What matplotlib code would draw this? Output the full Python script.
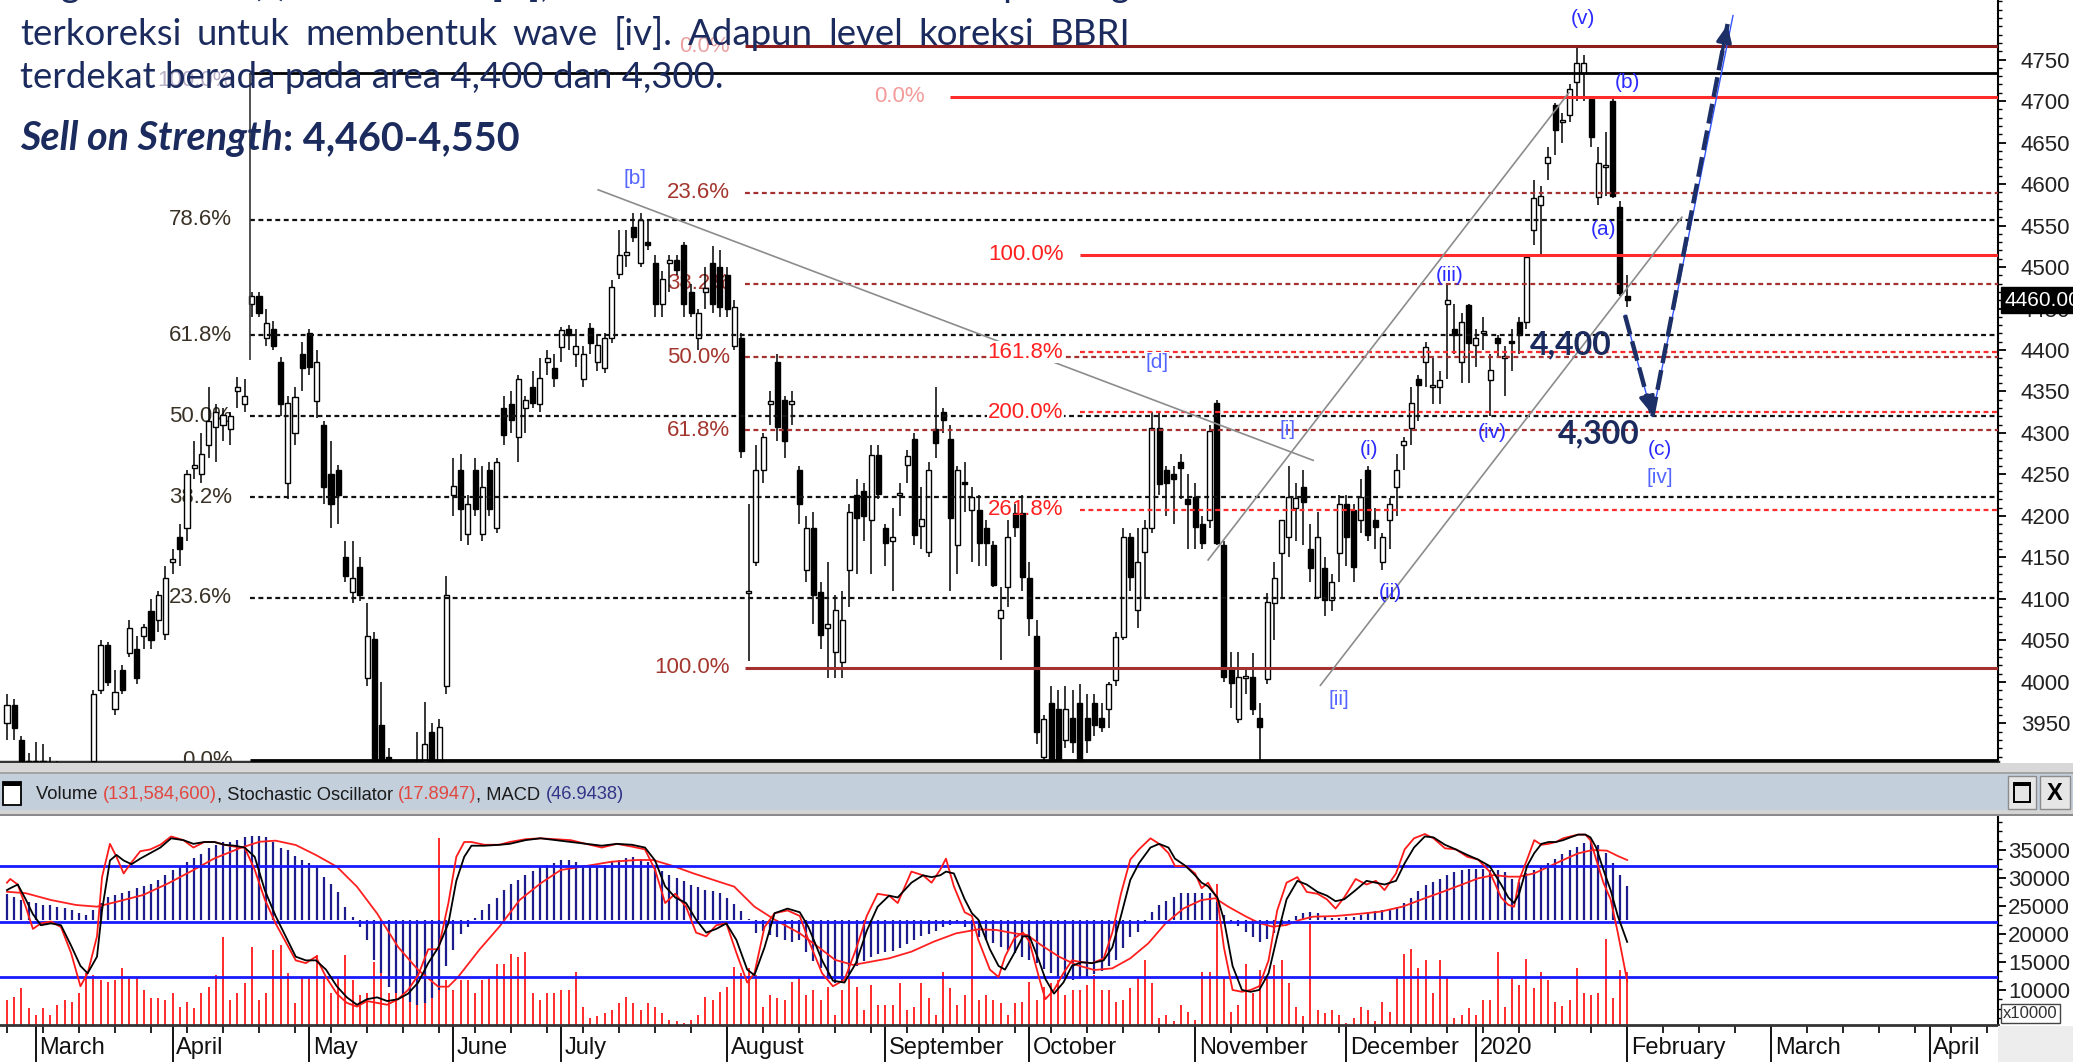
import numpy as np
import matplotlib
matplotlib.use("Agg")
import matplotlib.pyplot as plt
from matplotlib.patches import Rectangle
from matplotlib.transforms import IdentityTransform
from matplotlib.ticker import FixedLocator, MultipleLocator

# ---------------------------------------------------------------------------
# data  (BBRI daily, late Feb 2019 - end Jan 2020)
# ---------------------------------------------------------------------------
opens = [3950, 3972, 3930, 3905, 3900, 3905, 3900, 3900, 3900, 3890,
         3880, 3885, 3905, 3990, 4045, 3968, 4015, 4035, 4040, 4055,
         4085, 4075, 4058, 4145, 4175, 4185, 4258, 4250, 4285, 4307,
         4310, 4305, 4350, 4335, 4455, 4465, 4415, 4425, 4385, 4240,
         4300, 4395, 4420, 4338, 4310, 4250, 4255, 4150, 4108, 4138,
         4005, 4052, 3948, 3910, 3880, 3850, 3860, 3890, 3895, 3940,
         3905, 3995, 4225, 4256, 4178, 4255, 4178, 4255, 4186, 4330,
         4335, 4295, 4330, 4356, 4335, 4385, 4378, 4404, 4425, 4395,
         4365, 4426, 4386, 4378, 4414, 4492, 4515, 4548, 4505, 4530,
         4505, 4455, 4505, 4508, 4527, 4470, 4414, 4470, 4505, 4500,
         4490, 4405, 4415, 4107, 4145, 4255, 4335, 4386, 4340, 4335,
         4255, 4135, 4185, 4108, 4065, 4036, 4024, 4135, 4225, 4230,
         4195, 4273, 4185, 4170, 4225, 4262, 4293, 4188, 4157, 4305,
         4325, 4293, 4165, 4240, 4207, 4207, 4185, 4165, 4077, 4115,
         4204, 4204, 4125, 4055, 3910, 3975, 3967, 3930, 3957, 3975,
         3957, 3975, 3957, 3967, 4002, 4054, 4175, 4087, 4157, 4185,
         4306, 4255, 4250, 4265, 4220, 4223, 4190, 4195, 4336, 4165,
         4017, 3955, 4005, 4006, 3957, 4004, 4095, 4155, 4175, 4210,
         4235, 4160, 4103, 4137, 4099, 4155, 4215, 4207, 4195, 4255,
         4195, 4145, 4195, 4235, 4285, 4306, 4365, 4386, 4355, 4356,
         4455, 4425, 4386, 4454, 4406, 4420, 4364, 4414, 4390, 4410,
         4434, 4434, 4545, 4575, 4625, 4695, 4675, 4683, 4723, 4734,
         4703, 4584, 4620, 4700, 4572, 4465]
highs = [3985, 3980, 3935, 3915, 3928, 3925, 3910, 3905, 3903, 3900,
         3895, 3900, 3990, 4050, 4048, 4015, 4020, 4075, 4055, 4070,
         4100, 4110, 4140, 4160, 4190, 4255, 4290, 4300, 4355, 4335,
         4330, 4325, 4368, 4365, 4470, 4470, 4450, 4435, 4392, 4345,
         4355, 4410, 4425, 4400, 4315, 4290, 4262, 4170, 4170, 4150,
         4095, 4060, 4000, 3920, 3890, 3870, 3880, 3940, 3976, 3950,
         3955, 4128, 4270, 4275, 4225, 4270, 4260, 4265, 4270, 4345,
         4350, 4370, 4345, 4375, 4390, 4400, 4395, 4428, 4430, 4425,
         4405, 4432, 4418, 4420, 4484, 4545, 4545, 4565, 4565, 4555,
         4515, 4495, 4515, 4515, 4530, 4480, 4450, 4500, 4525, 4520,
         4500, 4460, 4420, 4215, 4285, 4300, 4350, 4395, 4345, 4350,
         4260, 4200, 4205, 4120, 4145, 4105, 4110, 4215, 4245, 4240,
         4285, 4285, 4190, 4210, 4240, 4280, 4300, 4235, 4265, 4355,
         4330, 4310, 4260, 4265, 4235, 4225, 4195, 4170, 4115, 4195,
         4215, 4225, 4145, 4075, 3960, 3995, 3990, 3995, 3990, 3998,
         3985, 3985, 3975, 4000, 4060, 4185, 4180, 4185, 4195, 4325,
         4325, 4260, 4260, 4275, 4250, 4240, 4200, 4310, 4340, 4170,
         4036, 4036, 4015, 4035, 3975, 4107, 4145, 4195, 4260, 4240,
         4255, 4190, 4205, 4150, 4130, 4225, 4225, 4215, 4245, 4260,
         4210, 4180, 4222, 4275, 4295, 4355, 4370, 4410, 4390, 4375,
         4480, 4455, 4445, 4455, 4425, 4440, 4395, 4418, 4405, 4425,
         4440, 4515, 4605, 4598, 4645, 4697, 4685, 4720, 4766, 4755,
         4705, 4645, 4663, 4702, 4580, 4490]
lows = [3930, 3930, 3880, 3870, 3880, 3885, 3870, 3880, 3870, 3860,
        3860, 3870, 3900, 3985, 3995, 3960, 3985, 4030, 3998, 4040,
        4040, 4060, 4050, 4130, 4140, 4170, 4245, 4240, 4270, 4265,
        4290, 4285, 4330, 4325, 4440, 4440, 4405, 4400, 4320, 4220,
        4285, 4350, 4370, 4318, 4215, 4185, 4190, 4120, 4095, 4098,
        3995, 3900, 3880, 3870, 3840, 3820, 3830, 3870, 3880, 3895,
        3895, 3985, 4200, 4170, 4165, 4200, 4170, 4200, 4180, 4285,
        4300, 4265, 4300, 4330, 4325, 4370, 4355, 4385, 4400, 4380,
        4355, 4395, 4375, 4372, 4408, 4485, 4500, 4530, 4500, 4520,
        4440, 4440, 4470, 4490, 4440, 4440, 4400, 4450, 4445, 4440,
        4440, 4400, 4270, 4025, 4140, 4240, 4310, 4290, 4270, 4310,
        4190, 4120, 4070, 4040, 4005, 4005, 4005, 4090, 4130, 4170,
        4130, 4220, 4140, 4110, 4200, 4240, 4165, 4160, 4150, 4270,
        4300, 4110, 4130, 4205, 4145, 4140, 4140, 4115, 4027, 4090,
        4175, 4110, 4055, 3925, 3890, 3890, 3890, 3920, 3915, 3880,
        3915, 3935, 3940, 3945, 3995, 4050, 4110, 4065, 4100, 4180,
        4225, 4200, 4190, 4220, 4160, 4160, 4160, 4185, 4165, 4000,
        3969, 3950, 3985, 3960, 3904, 3998, 4050, 4100, 4150, 4170,
        4165, 4120, 4100, 4080, 4085, 4120, 4140, 4120, 4180, 4170,
        4160, 4135, 4160, 4200, 4255, 4285, 4315, 4355, 4335, 4335,
        4365, 4395, 4360, 4360, 4380, 4400, 4320, 4390, 4345, 4375,
        4395, 4425, 4526, 4515, 4605, 4635, 4650, 4675, 4700, 4700,
        4645, 4575, 4585, 4583, 4465, 4452]
closes = [3972, 3945, 3900, 3895, 3905, 3900, 3895, 3890, 3885, 3880,
          3885, 3895, 3985, 4045, 4000, 3988, 3990, 4065, 4005, 4066,
          4050, 4105, 4125, 4148, 4160, 4250, 4262, 4275, 4315, 4325,
          4322, 4320, 4355, 4345, 4465, 4445, 4432, 4405, 4335, 4336,
          4343, 4378, 4380, 4385, 4235, 4215, 4225, 4128, 4125, 4105,
          4055, 3905, 3900, 3880, 3850, 3860, 3845, 3900, 3925, 3905,
          3946, 4105, 4236, 4208, 4215, 4208, 4235, 4208, 4265, 4297,
          4316, 4365, 4340, 4336, 4366, 4390, 4366, 4424, 4418, 4405,
          4395, 4408, 4406, 4414, 4476, 4514, 4518, 4536, 4557, 4527,
          4456, 4485, 4508, 4496, 4456, 4445, 4444, 4475, 4456, 4452,
          4450, 4452, 4278, 4110, 4255, 4295, 4338, 4307, 4290, 4338,
          4215, 4185, 4105, 4057, 4070, 4087, 4075, 4205, 4197, 4200,
          4273, 4227, 4168, 4175, 4228, 4272, 4177, 4196, 4255, 4288,
          4316, 4197, 4255, 4238, 4223, 4167, 4167, 4117, 4087, 4175,
          4187, 4127, 4077, 3940, 3955, 3905, 3900, 3967, 3928, 3900,
          3930, 3948, 3946, 3997, 4054, 4175, 4127, 4145, 4185, 4306,
          4238, 4240, 4245, 4258, 4215, 4187, 4167, 4303, 4167, 4006,
          3999, 4006, 4007, 3967, 3946, 4096, 4125, 4195, 4223, 4222,
          4217, 4137, 4175, 4099, 4120, 4215, 4175, 4139, 4223, 4177,
          4187, 4175, 4215, 4255, 4290, 4336, 4358, 4404, 4357, 4364,
          4460, 4418, 4434, 4408, 4414, 4422, 4376, 4408, 4392, 4408,
          4418, 4512, 4583, 4585, 4632, 4665, 4677, 4715, 4746, 4746,
          4657, 4625, 4622, 4585, 4469, 4460]

# volume in units of 10,000 shares
volume = [8228, 8819, 10296, 6750, 5569, 6750, 5569, 7342, 8228, 7932,
          9410, 12956, 12660, 11774, 11478, 11774, 13843, 12365, 12070, 10001,
          8524, 8524, 8228, 9410, 7046, 7932, 6750, 9410, 10592, 12660,
          19457, 8228, 9410, 11183, 17684, 8228, 9410, 17093, 17980, 12956,
          7637, 12365, 12365, 16207, 12365, 9410, 12070, 16207, 11774, 9115,
          9410, 15025, 14138, 9410, 11774, 9410, 11478, 11774, 9705, 13252,
          37187, 11774, 10001, 11774, 11774, 9410, 11774, 12070, 14729, 14729,
          16502, 15911, 16797, 9410, 8228, 9410, 9410, 10001, 10001, 13252,
          7046, 4978, 5273, 5864, 6455, 7637, 8819, 7637, 6455, 7637,
          7046, 5864, 4682, 4387, 4091, 4682, 5569, 8819, 8228, 9705,
          10592, 14138, 12956, 13843, 12660, 7046, 9115, 8524, 8228, 11478,
          12365,
          9115, 10001, 8228, 10592, 5569, 10001, 12070, 10592, 6455,
          10888, 7342, 7342, 7342, 11183, 6455, 7046, 11183, 8524,
          5569, 13252, 10296, 7342, 9115, 22412, 8228, 9115, 8228, 7637,
          5569, 7637, 7932, 11478, 8228, 10592, 11183, 11774, 9115, 10001,
          10001, 10888, 12660, 10001, 10001, 7932, 8228, 10296, 12365, 15320,
          11183, 4978, 5569, 4387, 7342, 6160, 4682, 13252, 13252, 28913,
          12070, 6160, 7342, 14729, 9410, 13547, 12070, 14434, 15320, 11183,
          7046, 5273, 21821, 6455, 5864, 6455, 5569, 4091, 4978, 7046,
          6455, 4387, 7932, 6160, 12365, 16502, 17389, 13843, 15320, 9410,
          15320, 12365, 4978, 5569, 6750, 5569, 8228, 8228,
          16797, 7046, 12365, 10888, 15616, 10296, 13252, 11774, 7932, 7164,
          8228, 13843, 9410, 9115, 9410, 19161, 8524, 13547, 13158]

macd_hist = [36, 32, 27.6, 25, 23, 21, 21, 18, 16, 14,
             10, 6.4, 14, 24, 32, 34, 37, 40.5, 44, 47,
             50, 55, 62, 69, 74, 80, 85, 91, 99, 103,
             108, 108, 110, 114, 116, 116, 114, 107, 99, 97,
             88, 83, 78, 74, 60, 50, 38, 18, 4.6, -9,
             -28, -55, -73, -92, -101, -106, -113, -117, -115, -107,
             -97, -64, -41, -20, -9, 2.3, 14, 22, 30, 41,
             50, 55, 62, 68, 73, 76, 79, 83, 83, 80,
             76, 75, 74, 76, 80, 83, 85, 87, 84, 80,
             74, 68, 62, 58, 54, 48, 45, 42, 40, 37,
             31, 22, 13, 2, -18, -15, -21, -24, -28, -30, -28,
             -43.7, -57, -66.7, -78, -86.5, -85, -74.5, -64, -56, -51.5,
             -47, -44.6, -42.3, -39, -33, -27.6, -22, -19.3, -14.7, -9.2,
             -7.4, -4.6, -9.2, -13.8, -23, -27.6, -32, -36.8, -41.4, -46,
             -50.6, -55, -59.8, -68, -73.6, -78, -80.5, -82.8, -81, -78,
             -74.5, -70, -63, -55, -39, -23, -16, -4.6, 11.5, 20.7,
             26.7, 32, 36.8, 36.8, 36.8, 36.8, 37.7, 25.3, 6.9, -3.7,
             -8.3, -16, -23, -31, -26.7, -17.5, -8.3, -3.7, 5.5, 10,
             11.5, 10, 5.5, 2.8, 2.8, 4.6, 4.6, 6.9, 11.5, 12.9,
             13.8, 14.7, 18.4, 23.9, 30, 40.5, 48.3, 52.9, 56.6, 61.6,
             65.8, 69, 70, 70, 70, 69, 69,
             66.7, 56, 53, 64.4, 69, 73.6, 78, 83.7, 90.6, 96.6,
             101, 106, 109, 104, 92, 78, 62, 47]

# MACD signal line, read at these bar positions
sig_x = [0, 2.6, 6.1, 9.6, 12.5, 15.3, 18.9, 22.4, 25.9, 28.8,
         32.3, 35.1, 37.3, 40.1, 42.9, 45.8, 48.6, 51.4, 54.3, 57.1,
         59.9, 61.3, 62.7, 65.6, 68.4, 71.2, 74.1, 76.9, 80.4, 84,
         87.5, 89.7, 92.5, 95.3, 98.2, 101, 103.8, 106.7, 110.1, 112.6,
         115, 117.5, 120, 122.5, 125.6, 128.7, 131.8, 134.9, 137.4, 139.9,
         141.7, 143.6, 146.1, 148.5, 151, 153.5, 156, 158.5, 160.9, 163.4,
         165.9, 167.8, 169.6, 172.1, 174, 175.8, 177.7, 179.5, 181.4, 184.5,
         187.6, 190.7, 193.8, 196.9, 199.4, 201.9, 204.3, 206.5, 208.5, 210,
         212.1, 214.1, 216.1, 218.2, 220.2, 222.2, 223.7, 225]
sig_v = [39, 37, 27.6, 20.7, 18.4, 25.3, 34.5, 50.6, 69, 85,
         99, 108, 109.5, 103.5, 89.7, 73.6, 46, 9, -37, -69,
         -92, -92, -78, -41, -9, 27.6, 50.6, 69, 74.5, 80.5,
         82.8, 82.8, 74.5, 64.4, 55, 46, 18.4, 0, -18.4, -36.8,
         -55, -62, -57.5, -52.9, -43.7, -29.9, -18.4, -12.9, -13.8, -18.4,
         -20.7, -34.5, -50.6, -62, -69, -66.7, -52.9, -32.2, -4.6, 16,
         27.6, 30, 18.4, 4.6, -4.6, -9.2, -6.9, 0, 4.6, 5.5,
         8.3, 11.5, 18.4, 30, 39, 48.3, 57.5, 62, 59.8, 59.8,
         64.4, 73.6, 82.8, 92, 96.6, 95.7, 88.3, 82.8]

# stochastic (%K red, %D black), read at these bar positions
sto_x = [0, 0.45, 1.5, 2.6, 3.6, 4.7, 6.1, 7.5, 8.9, 10.2,
         11.2, 12.5, 13.2, 14.3, 15.2, 16.2, 17.3, 18.5, 19.9, 21.3,
         22.8, 24.5, 25.9, 27.4, 28.8, 30.2, 31.6, 33, 34.4, 35.8,
         37.3, 38.7, 40.1, 41.5, 42.9, 44.3, 45.8, 47.2, 48.6, 50,
         51.4, 52.8, 54.3, 55.7, 57.1, 58.5, 59.9, 61.3, 62.4, 63.5,
         64.5, 66.3, 68.4, 69.8, 72, 74.1, 76.2, 78.3, 80.4, 82.6,
         84.7, 86.8, 88.6, 90, 91.4, 92.8, 94.3, 95.7, 97.1, 98.5,
         99.9, 101.3, 102.8, 103.8, 105.2, 106.6, 108.4, 110.1, 111.3, 113.2,
         114.7, 116.3, 117.9, 119.4, 120.9, 122.5, 123.7, 125.6, 127.2, 128.4,
         129.6, 130.4, 131.5, 133, 134, 134.9, 136.5, 137.7, 138.6, 139.9,
         141.1, 142, 143.3, 144.2, 145.4, 146.7, 147.9, 149.2, 150.7, 152.3,
         153.5, 154.7, 156, 157.2, 158.8, 160, 161.3, 162.2, 163.7, 165,
         165.9, 166.8, 168.1, 169, 170.2, 171.5, 172.7, 173.9, 175.2, 176.4,
         177.7, 179.2, 180.5, 182, 183.3, 184.5, 185.7, 187.3, 188.8, 190.1,
         191.3, 192.9, 194.1, 195.4, 196.9, 198.1, 199.7, 201.2, 202.8, 204.3,
         205.9, 207.5, 208.5, 209.3, 210, 211.1, 212.1, 213.1, 214.1, 215.1,
         216.1, 217.1, 218.2, 219.2, 219.9, 220.7, 221.7, 222.7, 223.7, 225]
sto_k = [71, 73, 70, 58, 46, 49, 50, 47, 33, 15,
         22, 42, 74, 92, 85, 76, 82, 88, 89, 91.5,
         96, 94, 90, 93, 93, 91.5, 90.5, 90, 78, 62,
         49, 39, 29, 27.5, 31, 20, 11, 6, 4, 7,
         6, 5, 8, 13, 21, 35, 35, 60, 85, 93,
         93, 91.5, 91.5, 93, 94.5, 95, 94.5, 94, 92, 90,
         92, 90.5, 89, 78, 60, 65, 58, 44, 42, 48,
         49, 33, 17, 22, 47, 54.5, 56, 53, 40, 22,
         15, 18.5, 35, 53, 65, 64, 60, 77, 75, 71,
         78, 84, 69, 55, 53, 40, 24, 20, 31, 41,
         44, 39, 20, 8, 13, 22, 29, 28, 27.5, 30,
         44, 65, 83.5, 89, 95, 92, 87, 80, 80, 76,
         68, 71, 62, 36, 13, 12, 13, 15, 29, 56,
         71, 74, 66, 65, 62, 57, 63, 73, 70, 72,
         67, 76, 89, 95, 97.3, 95, 89.6, 89, 85, 83.5,
         77, 63, 59, 58, 72.5, 83.5, 94, 91.5, 92, 93,
         95, 96, 97, 97, 94, 83.5, 71, 62, 44, 17.9]
sto_d = [67, 68, 70, 62, 54, 48, 49, 48, 37, 26,
         22, 31, 56, 83, 86, 83, 81, 84, 87, 90,
         95, 94, 92, 93, 93, 91.5, 91, 90, 85, 67,
         53, 42, 31, 29, 29, 24, 15, 9, 5, 8,
         9, 7, 8, 11, 17, 27.5, 36, 49, 72, 85,
         91, 91, 91.5, 92, 94, 95, 94, 93, 92, 91,
         92, 91.5, 90, 83, 69, 63, 60, 51, 44, 46,
         49, 40, 24, 21, 36, 54.5, 57, 55, 47, 29,
         18, 17, 27.5, 45, 58, 64, 63, 71, 75, 74,
         75, 77, 76, 62, 54.5, 51, 35, 26, 24, 33,
         42, 42, 29, 19, 11, 17, 26, 28, 27.5, 29,
         36, 53, 72.5, 81.5, 90, 92, 90, 84, 80, 75,
         71, 69, 63, 51, 26, 13, 12, 13, 22, 42,
         62, 72, 70, 66, 64, 61, 62, 67, 72, 71,
         70, 72, 81.5, 90, 96, 95.5, 91.5, 89, 86, 83.5,
         80, 70, 63, 60, 65, 80, 87, 92, 93, 93,
         94, 95.5, 97, 97, 95.5, 90, 78, 67, 53, 39]

month_pos = [4, 23, 42, 62, 77, 100, 122, 142, 165, 186, 204, 225, 245, 267]
month_lbl = ["March", "April", "May", "June", "July", "August", "September",
             "October", "November", "December", "2020", "February", "March", "April"]

# fibonacci tools: anchors and levels
fib1_lo, fib1_hi = 3906, 4734
fib1_pct = [0.0, 23.6, 38.2, 50.0, 61.8, 78.6, 100.0]
fib2_top, fib2_bot = 4766, 4017
fib2_pct = [0.0, 23.6, 38.2, 50.0, 61.8, 100.0]
fib3_zero, fib3_one = 4705, 4515
fib3_pct = [0.0, 100.0, 161.8, 200.0, 261.8]

wave_lbl = ["[b]", "[d]", "[i]", "[ii]", "(i)", "(ii)", "(iii)", "(iv)",
            "(v)", "(a)", "(b)", "(c)", "[iv]"]
wave_x = [87.2, 159.7, 177.8, 185.0, 189.2, 192.1, 200.4, 206.3,
          218.9, 221.7, 225.1, 229.6, 229.6]
wave_y = [4607, 4385, 4304, 3979, 4280, 4108, 4490, 4301,
          4800, 4545, 4722, 4280, 4246]

# trend lines (bar, price) pairs
trend_lines = [((82.1, 4593), (181.4, 4267)),
               ((166.8, 4147), (216.9, 4710)),
               ((182.4, 3996), (232.6, 4560))]
# projected path: last bar -> target 4,320 -> 4,795
path_x = [224.7, 228.5, 239.0]
path_y = [4442, 4320, 4795]

# ---------------------------------------------------------------------------
W, H = 2073, 1062
fig = plt.figure(figsize=(W / 100, H / 100), dpi=100)
fig.patch.set_facecolor("white")
rend = fig.canvas.get_renderer()

NARROW = ["Liberation Sans Narrow", "Liberation Sans", "DejaVu Sans"]
NAVY = "#1b2b5e"
XLIM = (-0.97, 276.5)


def fy(py):
    return 1 - py / H


def text_px(x, y, s, **kw):
    return fig.text(x, H - y, s, transform=IdentityTransform(), **kw)


def width_of(t):
    return t.get_window_extent(renderer=rend).width


# ---------------------------------------------------------------------------
# price panel
# ---------------------------------------------------------------------------
ax = fig.add_axes([0, fy(762), 1998 / W, fy(0) - fy(762)])
ax.set_xlim(*XLIM)
ax.set_ylim(3903.6, 4821.7)

idx = np.arange(len(closes))
o, h, l, c = map(np.array, (opens, highs, lows, closes))
ax.vlines(idx, l, h, color="black", lw=1.1, zorder=3)
up = c >= o
body_lo = np.minimum(o, c)
body_h = np.maximum(np.abs(c - o), 2.5)
ax.bar(idx[up], body_h[up], bottom=body_lo[up], width=0.7,
       facecolor="white", edgecolor="black", lw=1.0, zorder=3.2)
ax.bar(idx[~up], body_h[~up], bottom=body_lo[~up], width=0.7,
       facecolor="black", edgecolor="black", lw=1.0, zorder=3.2)

dots = (0, (2.2, 1.6))
# fib 1 (black)
for p in fib1_pct:
    lvl = fib1_lo + (fib1_hi - fib1_lo) * p / 100
    solid = p in (0.0, 100.0)
    ax.hlines(lvl, 33.8, XLIM[1], color="black" if solid else "#111111",
              lw=2.0 if solid else 1.6, linestyles="-" if solid else dots, zorder=4)
    col = "#b8aec6" if p == 100.0 else "#3a3226"
    ax.text(31.3, lvl - (9 if p == 100.0 else 0), f"{p:.1f}%", ha="right", va="center",
            fontsize=16, family=NARROW, color=col, zorder=2)
ax.vlines(33.8, 4388, fib1_hi, color="#333333", lw=1.2, zorder=4)

# fib 2 (dark red)
for p in fib2_pct:
    lvl = fib2_top - (fib2_top - fib2_bot) * p / 100
    solid = p in (0.0, 100.0)
    ax.hlines(lvl, 102.5, XLIM[1], color="#8e1d1d" if p == 0 else "#a53030",
              lw=2.2 if solid else 1.6, linestyles="-" if solid else dots, zorder=4)
    ax.text(100.4, lvl, f"{p:.1f}%", ha="right", va="center", fontsize=16,
            family=NARROW, color="#e9a0a0" if p == 0 else "#a3362e", zorder=2)

# fib 3 (red extension)
for p in fib3_pct:
    lvl = fib3_zero - (fib3_zero - fib3_one) * p / 100
    solid = p in (0.0, 100.0)
    start = 131 if p == 0 else 149
    ax.hlines(lvl, start, XLIM[1], color="#ff2a2a", lw=2.2 if solid else 1.6,
              linestyles="-" if solid else dots, zorder=4)
    lx = 127.5 if p == 0 else 146.7
    bb = None if p in (0.0, 261.8) else dict(facecolor="white", edgecolor="none", pad=0.5)
    ax.text(lx, lvl, f"{p:.1f}%", ha="right", va="center", fontsize=16, family=NARROW,
            color="#f49a9a" if p == 0 else "#ff2020", bbox=bb, zorder=4.5)

for (x0, y0), (x1, y1) in trend_lines:
    ax.plot([x0, x1], [y0, y1], color="#8c8c8c", lw=1.2, zorder=4)

for s, x, y in zip(wave_lbl, wave_x, wave_y):
    bb = dict(facecolor="white", edgecolor="none", pad=0.5) if s == "[d]" else None
    ax.text(x, y, s, ha="center", va="center", fontsize=15, family=NARROW,
            color="#5566ff" if s.startswith("[") else "#2b2bff", bbox=bb, zorder=5)

# projected path
ax.plot(path_x[:2] + [path_x[2] + 0.7], path_y[:2] + [path_y[2] + 8],
        color="#3355ff", lw=1.0, zorder=5)
for i in range(2):
    xs, ys = path_x[i:i + 2], path_y[i:i + 2]
    ax.plot(xs, ys, color="#1c2f66", lw=3.2, dashes=(4.5, 1.6),
            solid_capstyle="butt", zorder=6)
    ax.annotate("", xy=(xs[1], ys[1]),
                xytext=(xs[1] - (xs[1] - xs[0]) * 0.08, ys[1] - (ys[1] - ys[0]) * 0.08),
                arrowprops=dict(arrowstyle="-|>,head_length=1.0,head_width=0.45",
                                color="#1c2f66", lw=2.5), zorder=6)
ax.text(217.1, 4406, "4,400", ha="center", va="center", fontsize=23,
        fontweight="bold", family=["Lato", "DejaVu Sans"], color=NAVY, zorder=7)
ax.text(221.0, 4299, "4,300", ha="center", va="center", fontsize=23,
        fontweight="bold", family=["Lato", "DejaVu Sans"], color=NAVY, zorder=7)

# axis cosmetics
for s in ("left", "top"):
    ax.spines[s].set_visible(False)
ax.spines["right"].set_linewidth(1.5)
ax.spines["bottom"].set_linewidth(2.5)
ax.spines["bottom"].set_color("#333333")
ax.set_xticks([])
ax.yaxis.tick_right()
ax.yaxis.set_major_locator(FixedLocator(list(range(3950, 4800, 50))))
ax.yaxis.set_minor_locator(FixedLocator(list(range(3910, 4821, 10))))
ax.set_yticklabels([str(v) for v in range(3950, 4800, 50)])
ax.tick_params(axis="y", which="major", direction="out", length=6, width=1.3,
               pad=46, labelsize=16, labelcolor="#222222")
ax.tick_params(axis="y", which="minor", direction="out", length=3, width=1.0)
for t in ax.get_yticklabels():
    t.set_fontfamily(NARROW)
    t.set_ha("right")
ax.text(1.0035, 4460, "4460.000", transform=ax.get_yaxis_transform(), ha="left",
        va="center", fontsize=15, family=NARROW, color="white", clip_on=False,
        bbox=dict(facecolor="black", edgecolor="black", pad=2.5), zorder=8)

# ---------------------------------------------------------------------------
# window frame / header bar
# ---------------------------------------------------------------------------
def rect_px(x0, y0, x1, y1, **kw):
    fig.add_artist(Rectangle((x0 / W, fy(y1)), (x1 - x0) / W, (y1 - y0) / H,
                             transform=fig.transFigure, **kw))


rect_px(0, 763, W, 773, facecolor="#d8d8d8", edgecolor="none")
rect_px(0, 772, W, 774, facecolor="#a4a4a4", edgecolor="none")
rect_px(0, 774, W, 810, facecolor="#c3cfdb", edgecolor="none")
rect_px(0, 810, W, 815, facecolor="#d4d4d4", edgecolor="none")
rect_px(0, 814, W, 815.5, facecolor="#8a8a8a", edgecolor="none")
rect_px(3, 782, 21, 805, facecolor="white", edgecolor="black", lw=1.3)
rect_px(3, 782, 21, 786, facecolor="black", edgecolor="none")
rect_px(2008, 776, 2036, 809, facecolor="#e6e6e6", edgecolor="#8c8c8c", lw=1)
rect_px(2040, 776, 2070, 809, facecolor="#e6e6e6", edgecolor="#8c8c8c", lw=1)
rect_px(2014, 783, 2030, 802, facecolor="none", edgecolor="black", lw=1.4)
rect_px(2014, 783, 2030, 786, facecolor="black", edgecolor="none")
text_px(2055, 793, "X", ha="center", va="center", fontsize=17, fontweight="bold",
        family=NARROW, color="black")
rect_px(1998, 1026, W, H, facecolor="#ededed", edgecolor="none")

header = [("Volume ", "#1a1a1a"), ("(131,584,600)", "#e2463f"),
          (", Stochastic Oscillator ", "#1a1a1a"), ("(17.8947)", "#e2463f"),
          (", MACD ", "#1a1a1a"), ("(46.9438)", "#343488")]


def draw_runs(parts, x0, ybase, size, **kw):
    x, made = x0, []
    for s, col in parts:
        t = text_px(x, ybase, s, fontsize=size, va="baseline", color=col, **kw)
        made.append(t)
        x += width_of(t)
    return x - x0, made


w20, tmp = draw_runs(header, 0, 0, 20, family=NARROW)
for t in tmp:
    t.remove()
draw_runs(header, 36, 799, 20 * 590 / w20, family=NARROW)

# ---------------------------------------------------------------------------
# indicator panel: volume, MACD histogram + signal, stochastic
# ---------------------------------------------------------------------------
axl = fig.add_axes([0, fy(1025), 1998 / W, fy(815) - fy(1025)])
axl.set_xlim(*XLIM)
axl.set_ylim(3750, 41250)
axl.vlines(idx, 3750, volume, color="#ff2a2a", lw=1.4, zorder=2)

axm = axl.twinx()
axm.set_ylim(-144.9, 144.9)
axm.vlines(idx, 0, macd_hist, color="#1c1c8c", lw=1.6, zorder=2)
axm.plot(sig_x, sig_v, color="#ff2020", lw=1.3, zorder=3)

axs = axl.twinx()
axs.set_ylim(-5.95, 107.6)
for lv in (80, 50, 20):
    axs.axhline(lv, color="#1a1aff", lw=2.0, zorder=2)
axs.plot(sto_x, sto_k, color="#ff1a1a", lw=1.3, zorder=3)
axs.plot(sto_x, sto_d, color="black", lw=1.3, zorder=4)

for a in (axm, axs):
    a.set_xlim(*XLIM)
    a.set_yticks([])
    for s in a.spines.values():
        s.set_visible(False)

for s in ("left", "top"):
    axl.spines[s].set_visible(False)
axl.spines["right"].set_linewidth(1.5)
axl.spines["bottom"].set_linewidth(2.0)
axl.spines["bottom"].set_color("#333333")
axl.yaxis.tick_right()
vol_ticks = list(range(10000, 40000, 5000))
axl.yaxis.set_major_locator(FixedLocator(vol_ticks))
axl.yaxis.set_minor_locator(FixedLocator(list(np.arange(5000, 41000, 5000 / 3))))
axl.set_yticklabels([str(v) for v in vol_ticks])
axl.tick_params(axis="y", which="major", direction="out", length=6, width=1.3,
                pad=46, labelsize=16, labelcolor="#222222")
axl.tick_params(axis="y", which="minor", direction="out", length=3, width=1.0)
for t in axl.get_yticklabels():
    t.set_fontfamily(NARROW)
    t.set_ha("right")

axl.xaxis.set_major_locator(FixedLocator(month_pos))
axl.xaxis.set_minor_locator(MultipleLocator(5))
axl.tick_params(axis="x", which="major", direction="out", length=27, width=1.3,
                labelbottom=False)
axl.tick_params(axis="x", which="minor", direction="out", length=6, width=1.2)
for m, s in zip(month_pos, month_lbl):
    axl.text(m + 0.5, -0.11, s, transform=axl.get_xaxis_transform(), ha="left",
             va="center", fontsize=17, family=NARROW, color="#111111")
text_px(2003, 1013, "x10000", ha="left", va="center", fontsize=12, family=NARROW,
        color="#333333", bbox=dict(facecolor="white", edgecolor="#444444", lw=1, pad=1.5))

# ---------------------------------------------------------------------------
# commentary text laid over the chart
# ---------------------------------------------------------------------------
SANS = ["Lato", "DejaVu Sans"]
line1 = "Bagian wave (c) dari wave [iv], BBRI kini masih akan berpeluang"
line2 = "terkoreksi untuk membentuk wave [iv]. Adapun level koreksi BBRI"
line3 = "terdekat berada pada area 4,400 dan 4,300."

tmp = text_px(0, 0, line3, fontsize=20, family=SANS)
psize = 20 * 705 / width_of(tmp)
tmp.remove()


def justified(line, x0, x1, ybase):
    words = line.split()
    ts = [text_px(0, ybase, w, fontsize=psize, family=SANS, color=NAVY,
                  va="baseline", zorder=9) for w in words]
    ws = [width_of(t) for t in ts]
    gap = (x1 - x0 - sum(ws)) / (len(ws) - 1)
    x = x0
    for t, w in zip(ts, ws):
        t.set_x(x)
        x += w + gap


justified(line1, 20, 1130, -3)
justified(line2, 20, 1130, 45)
text_px(20, 88, line3, fontsize=psize, family=SANS, color=NAVY, va="baseline", zorder=9)

sell = [("Sell on Strength", dict(fontstyle="italic")), (": 4,460-4,550", {})]


def sell_runs(x0, size):
    x, made = x0, []
    for s, extra in sell:
        t = text_px(x, 150, s, fontsize=size, family=SANS, fontweight="bold",
                    color=NAVY, va="baseline", zorder=9, **extra)
        made.append(t)
        x += width_of(t)
    return x - x0, made


sw, tmp = sell_runs(0, 20)
for t in tmp:
    t.remove()
sell_runs(20, 20 * 500 / sw)

fig.savefig("out.png", dpi=100)
